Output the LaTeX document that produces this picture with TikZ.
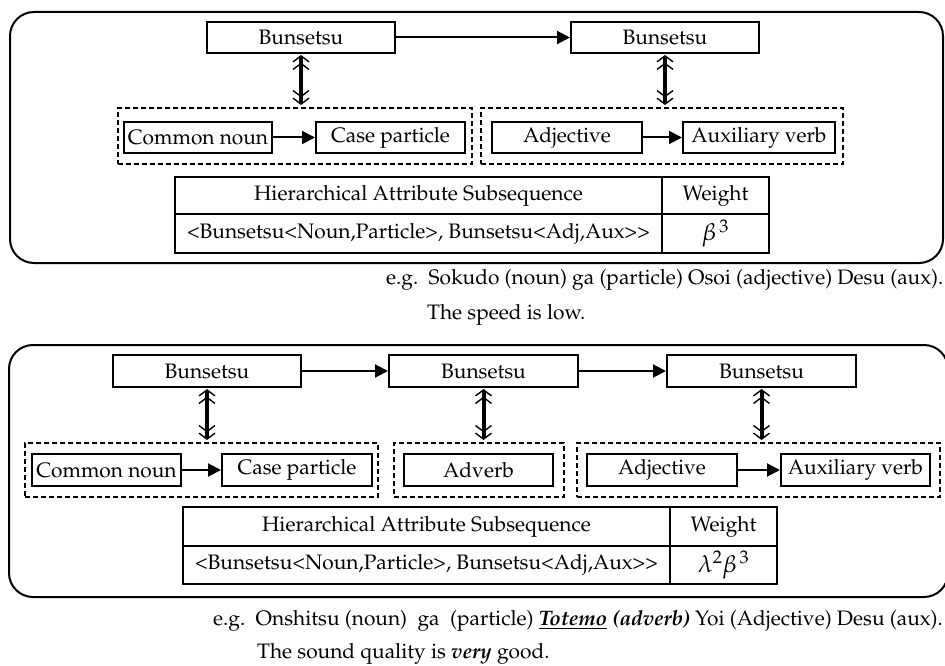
\documentclass[tikz,border=0pt]{standalone}
\usepackage[T1]{fontenc}
\usepackage{mathpazo}
\usetikzlibrary{arrows.meta}
\begin{document}
\begin{tikzpicture}[x=1pt,y=-1pt,
  every node/.style={font=\fontsize{20.9}{25}\selectfont},
  box/.style={draw, line width=2pt, inner sep=0pt, fill=white},
  dbox/.style={draw, line width=2pt, dash pattern=on 5pt off 3pt, inner sep=0pt},
  panel/.style={draw, line width=2pt, rounded corners=24pt},
  cell/.style={draw, line width=2pt, inner sep=0pt},
  mcell/.style={cell, font=\fontsize{24}{28}\selectfont},
  flow/.style={line width=2pt, -{Triangle[length=13pt,width=13pt]}},
  link/.style={line width=4pt, {Straight Barb[line width=1.4pt,length=6pt,width=16pt] Straight Barb[line width=1.4pt,length=6pt,width=16pt]}-{Straight Barb[line width=1.4pt,length=6pt,width=16pt] Straight Barb[line width=1.4pt,length=6pt,width=16pt]}, shorten <=1pt, shorten >=2pt},
  txt/.style={anchor=west, inner sep=0pt}
]
\useasboundingbox (0,0) rectangle (945,666);

% ---------------- top panel ----------------
\draw[panel] (10,12) rectangle (943,263);

\node[box, minimum width=188pt, minimum height=31pt] (tb1) at (301,37.5) {Bunsetsu};
\node[box, minimum width=188pt, minimum height=31pt] (tb2) at (665,37.5) {Bunsetsu};

\node[dbox, minimum width=354pt, minimum height=56pt] (td1) at (295,136) {};
\node[dbox, minimum width=362pt, minimum height=56pt] (td2) at (662,136) {};

\node[box, minimum width=148pt, minimum height=31pt] (tcn) at (198,137.5) {Common noun};
\node[box, minimum width=149pt, minimum height=31pt] (tcp) at (390.5,137.5) {Case particle};
\node[box, minimum width=150pt, minimum height=31pt] (tadj) at (567,137.5) {Adjective};
\node[box, minimum width=152pt, minimum height=31pt] (taux) at (759,137.5) {Auxiliary verb};

\draw[flow] (tb1) -- (tb2);
\draw[flow] (tcn) -- (tcp);
\draw[flow] (tadj) -- (taux);
\draw[link] (tb1.south) -- (tb1.south |- td1.north);
\draw[link] (tb2.south) -- (tb2.south |- td2.north);

\node[cell, minimum width=487pt, minimum height=37pt] (th1) at (418.5,195.5) {Hierarchical Attribute Subsequence};
\node[cell, minimum width=107pt, minimum height=37pt] (th2) at (715.5,195.5) {Weight};
\node[cell, minimum width=487pt, minimum height=39pt] (tr1) at (418.5,233.5) {<Bunsetsu<Noun,Particle>, Bunsetsu<Adj,Aux>{}>};
\node[mcell, minimum width=107pt, minimum height=39pt] (tr2) at (715.5,233.5) {$\beta^{\,3}$};

\node[txt] (teg) at (386,280) {e.g.\ \ Sokudo (noun) ga (particle) Osoi (adjective) Desu (aux).};
\node[txt] (tmean) at (427,315) {The speed is low.};

% ---------------- bottom panel ----------------
\draw[panel] (9,345) rectangle (948,597);

\node[box, minimum width=188pt, minimum height=32pt] (bb1) at (207,371) {Bunsetsu};
\node[box, minimum width=189pt, minimum height=32pt] (bb2) at (483.5,371) {Bunsetsu};
\node[box, minimum width=189pt, minimum height=32pt] (bb3) at (761.5,371) {Bunsetsu};

\node[dbox, minimum width=353pt, minimum height=54pt] (bd1) at (201.5,470) {};
\node[dbox, minimum width=170pt, minimum height=54pt] (bd2) at (479,470) {};
\node[dbox, minimum width=363pt, minimum height=54pt] (bd3) at (758.5,470) {};

\node[box, minimum width=149pt, minimum height=32pt] (bcn) at (106.5,470) {Common noun};
\node[box, minimum width=150pt, minimum height=32pt] (bcp) at (297,470) {Case particle};
\node[box, minimum width=149pt, minimum height=32pt] (badv) at (478.5,470) {Adverb};
\node[box, minimum width=150pt, minimum height=32pt] (badj) at (662,470) {Adjective};
\node[box, minimum width=149pt, minimum height=32pt] (baux) at (855.5,470) {Auxiliary verb};

\draw[flow] (bb1) -- (bb2);
\draw[flow] (bb2) -- (bb3);
\draw[flow] (bcn) -- (bcp);
\draw[flow] (badj) -- (baux);
\draw[link] (bb1.south) -- (bb1.south |- bd1.north);
\draw[link] (bb2.south) -- (bb2.south |- bd2.north);
\draw[link] (bb3.south) -- (bb3.south |- bd3.north);

\node[cell, minimum width=487pt, minimum height=39pt] (bh1) at (426.5,526.5) {Hierarchical Attribute Subsequence};
\node[cell, minimum width=107pt, minimum height=39pt] (bh2) at (723.5,526.5) {Weight};
\node[cell, minimum width=487pt, minimum height=38pt] (br1) at (426.5,565) {<Bunsetsu<Noun,Particle>, Bunsetsu<Adj,Aux>{}>};
\node[mcell, minimum width=107pt, minimum height=38pt] (br2) at (723.5,565) {$\lambda^{2}\beta^{\,3}$};

\node[txt] (beg) at (213,621) {e.g.\ \ Onshitsu (noun)\ \ ga\ \ (particle) \underline{\textbf{\textit{Totemo}}} \textbf{\textit{(adverb)}} Yoi (Adjective) Desu (aux).};
\node[txt] (bmean) at (257,654) {The sound quality is \textbf{\textit{very}} good.};
\end{tikzpicture}
\end{document}
